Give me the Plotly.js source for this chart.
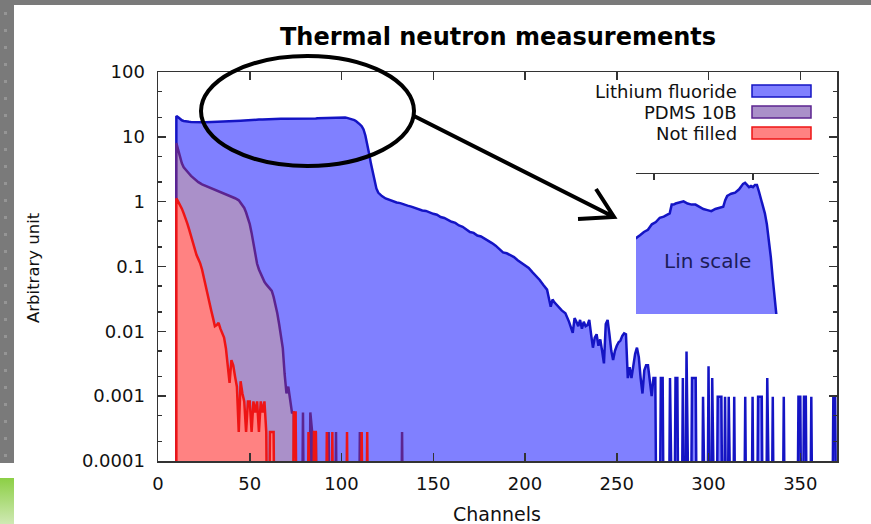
<!DOCTYPE html>
<html><head><meta charset="utf-8">
<script src="https://cdn.plot.ly/plotly-3.0.1.min.js"></script>
<style>
html,body{margin:0;padding:0;width:871px;height:524px;overflow:hidden;background:#fff;}
#bgTop{position:absolute;left:0;top:0;width:871px;height:5px;background:#7a7a7a;}
#bgLeft{position:absolute;left:0;top:0;width:14px;height:463px;background:#7a7a7a;}
#dots{position:absolute;left:4px;top:12px;width:3px;height:445px;background:repeating-linear-gradient(to bottom,#959595 0 3px,transparent 3px 17px);}
#green{position:absolute;left:0;top:478px;width:14px;height:46px;background:linear-gradient(to bottom,#8ccf45,#cfe9b3);}
#chart{position:absolute;left:0;top:0;width:871px;height:524px;}
</style></head>
<body>
<div id="bgTop"></div><div id="bgLeft"></div><div id="dots"></div><div id="green"></div>
<div id="chart"></div>
<script>
// ---------------- data ----------------
const lifChannels = [10,10,11,12,13,14,15,16,17,18,19,20,22,24,26,28,30,32,34,36,38,40,41,43,45,47,49,51,53,55,57,58,59,60,61,63,65,67,69,71,73,75,77,79,81,83,85,86,87,88,89,91,93,95,96,97,98,99,100,101,102,103,104,105,106,107,108,109,110,111,112,113,114,115,116,117,118,119,120,122,124,126,128,130,132,134,136,138,140,142,144,146,148,150,152,154,156,158,160,162,164,166,168,170,172,174,176,178,180,182,184,186,188,190,192,194,196,198,200,202,204,206,208,210,212,214,215,216,218,220,222,224,226,227,228,229,230,231,232,233,234,235,236,237,238,239,240,241,242,243,244,245,246,247,248,249,250,251,252,253,254,255,256,257,258,259,260,261,262,263,264,265,266,267,268,269,270,271,272];
const lifValues = [0,21,20,18.8,18.0,17.6,17.3,17.2,17.1,17.0,16.9,16.9,16.8,16.8,16.85,16.9,17.0,17.05,17.1,17.2,17.3,17.4,17.47,17.6,17.75,17.85,18.1,18.2,18.4,18.45,18.55,18.6,19.0,19.0,19.05,19.1,19.15,19.05,19.0,19.0,18.9,18.8,18.75,18.7,18.8,18.85,18.9,19.2,19.4,19.45,19.5,19.55,19.7,19.95,20.0,19.9,19.8,19.85,19.8,19.9,19.9,19.6,19.3,19.0,18.6,18.1,17.4,16.6,15.6,14.6,13.0,10.5,8.0,5.6,3.9,2.8,2.0,1.6,1.38,1.22,1.12,1.06,1.02,0.97,0.95,0.9,0.87,0.84,0.8,0.77,0.73,0.72,0.68,0.65,0.63,0.58,0.56,0.52,0.49,0.47,0.43,0.41,0.37,0.34,0.33,0.3,0.29,0.27,0.25,0.23,0.21,0.185,0.165,0.16,0.15,0.14,0.125,0.115,0.105,0.095,0.082,0.072,0.062,0.052,0.044,0.024,0.031,0.028,0.024,0.021,0.019,0.014,0.0095,0.016,0.014,0.012,0.015,0.011,0.014,0.012,0.0125,0.015,0.009,0.0056,0.008,0.009,0.006,0.0075,0.005,0.0032,0.013,0.015,0.009,0.005,0.0036,0.005,0.006,0.0068,0.0072,0.0085,0.0093,0.009,0.0019,0.0028,0.0019,0.003,0.0045,0.0056,0.004,0.0019,0.0011,0.0025,0.003,0.003,0.0019,0.001,0.0019,0.0019,0];
const lifTailChannels = [273,274,275,276,278,279,280,281,282,283,284,285,286,287,288,289,290,291,292,293,294,296,297,298,299,300,301,302,303,304,305,306,307,308,309,310,311,312,313,314,315,319,320,321,323,324,325,326,327,328,329,330,331,332,333,334,335,336,340,341,342,348,349,350,351,352,353,354,355,356,357,367,368,369,370];
const lifTailValues = [0,0.0019,0.0019,0,0,0.0019,0,0,0.0019,0.0019,0,0,0.0019,0,0.0049,0,0,0.0019,0.0019,0.0019,0,0,0.00098,0,0,0.0029,0,0.0019,0,0,0.00098,0.00098,0.00098,0,0.00098,0,0.00098,0,0,0.00098,0,0,0.00098,0,0,0.00098,0,0,0.00098,0.00098,0.00098,0,0,0.0019,0,0,0.00098,0,0,0.00098,0,0,0.00098,0.00098,0,0.00098,0.00098,0,0,0.00098,0,0,0.00098,0.00098,0];

const pdmsChannels = [10,10,11,12,13,14,15,16,17,18,19,20,22,24,26,28,30,32,34,36,38,40,42,44,45,46,47,48,49,50,51,52,53,54,55,56,57,58,59,60,61,62,63,64,65,66,67,68,69,70,71,72,73,74,75,78,79,80,82,83,84,85,86,87,92,93,94,96,97,98,109,110,111,132,133,134];
const pdmsValues = [0,8.0,6.3,4.8,3.9,3.4,3.1,2.9,2.7,2.5,2.35,2.2,2.0,1.85,1.75,1.65,1.56,1.48,1.42,1.35,1.28,1.2,1.13,1.05,0.97,0.9,0.8,0.68,0.56,0.45,0.33,0.22,0.15,0.11,0.09,0.077,0.066,0.058,0.053,0.049,0.045,0.042,0.034,0.026,0.019,0.013,0.0085,0.0055,0.0022,0.0011,0.0014,0.00083,0.00056,0.00056,0,0,0.00056,0,0,0.00056,0.00028,0,0.00028,0,0,0.00028,0,0,0.00028,0,0,0.00028,0,0,0.00028,0];

const emptyChannels = [10,10,11,12,13,14,15,16,17,18,19,20,21,22,23,24,25,26,27,28,29,30,31,32,33,34,35,36,37,38,39,40,41,42,43,44,45,46,47,48,49,50,51,52,53,54,55,56,57,58,59,60,61,62,63,64,73,74,75,76,81,82,83,84,85,86,87,91,92,93,94,95,96,102,103,104,110,111,112,113,114,115];
const emptyValues = [0,1.12,1.0,0.9,0.78,0.66,0.56,0.46,0.37,0.29,0.23,0.18,0.15,0.13,0.112,0.09,0.066,0.048,0.036,0.027,0.021,0.016,0.012,0.0125,0.0135,0.011,0.0095,0.008,0.0055,0.0028,0.0016,0.0036,0.003,0.002,0.0014,0.00028,0.0017,0.0011,0.00083,0.00028,0.00083,0.00083,0.00028,0.00083,0.00056,0.00083,0.00028,0.00083,0.00056,0.00083,0.00028,0,0.00028,0.00028,0.00028,0,0,0.00056,0.00056,0,0,0.00028,0,0,0.00028,0.00028,0,0,0.00028,0,0,0.00028,0,0,0.00028,0,0,0.00028,0,0,0.00028,0];

const seriesNames = ['Lithium fluoride','PDMS 10B','Not filled'];
const yTickVals = [0.0001,0.001,0.01,0.1,1,10,100];
const yTickText = ['0.0001','0.001','0.01','0.1','1','10','100'];
const yMinorVals = [0.0002,0.0005,0.002,0.005,0.02,0.05,0.2,0.5,2,5,20,50];
const xTickVals = [0,50,100,150,200,250,300,350];
const insetTickVals = [50,100];

// ---------------- geometry helpers ----------------
const W=871,H=524,L=158,R=34,T=72,B=63;
const PW=W-L-R, PH=H-T-B;
const px=(x)=>(x-L)/PW;
const py=(y)=>(H-B-y)/PH;
const FLOOR=1e-7;
const pos=(arr)=>arr.map(v=>v>0?v:FLOOR);

const lifX = lifChannels.concat(lifTailChannels);
const lifY = lifValues.concat(lifTailValues);

const colors = {
  lifLine:'#1414c4', lifFill:'#8080ff',
  pdmsLine:'#5c2490', pdmsFill:'#aa90c9',
  redLine:'#ee1515', redFill:'#ff8282'
};
const FONT='DejaVu Sans';
const LW=2.5;

const traces = [
  {x:lifX, y:pos(lifY), type:'scatter', mode:'lines', name:seriesNames[0], fill:'tozeroy',
   fillcolor:colors.lifFill, line:{color:colors.lifLine,width:LW}, xaxis:'x', yaxis:'y'},
  {x:pdmsChannels, y:pos(pdmsValues), type:'scatter', mode:'lines', name:seriesNames[1], fill:'tozeroy',
   fillcolor:colors.pdmsFill, line:{color:colors.pdmsLine,width:LW}, xaxis:'x', yaxis:'y'},
  {x:emptyChannels, y:pos(emptyValues), type:'scatter', mode:'lines', name:seriesNames[2], fill:'tozeroy',
   fillcolor:colors.redFill, line:{color:colors.redLine,width:LW}, xaxis:'x', yaxis:'y'},
  {x:lifChannels, y:lifValues, type:'scatter', mode:'lines', name:'inset', fill:'tozeroy',
   fillcolor:colors.lifFill, line:{color:colors.lifLine,width:LW}, xaxis:'x2', yaxis:'y2'}
];

// legend (gnuplot style: text left, swatch right)
const legendY=[91,112,133];
const legendLine=[colors.lifLine,colors.pdmsLine,colors.redLine];
const legendFill=[colors.lifFill,colors.pdmsFill,colors.redFill];
const shapes=[];
const annotations=[];
seriesNames.forEach((n,i)=>{
  annotations.push({xref:'paper',yref:'paper',x:px(739),y:py(legendY[i]),xanchor:'right',yanchor:'middle',
    text:n,showarrow:false,font:{family:FONT,size:18,color:'#111'}});
  shapes.push({type:'rect',xref:'paper',yref:'paper',x0:px(752),x1:px(811),y0:py(legendY[i]+6),y1:py(legendY[i]-6),
    fillcolor:legendFill[i],line:{color:legendLine[i],width:1.5},layer:'above'});
});
// ellipse + arrow
shapes.push({type:'circle',xref:'paper',yref:'paper',x0:px(201),x1:px(414),y0:py(166),y1:py(56),
  line:{color:'#000',width:4},layer:'above'});
const P=(x,y)=>px(x)+','+py(y);
shapes.push({type:'path',xref:'paper',yref:'paper',
  path:'M'+P(414,116)+' L'+P(614,217)+' M'+P(596,189)+' L'+P(614,217)+' L'+P(578,219),
  line:{color:'#000',width:4},layer:'above'});

annotations.push({xref:'paper',yref:'paper',x:px(707),y:py(261),text:'Lin scale',showarrow:false,
  xanchor:'center',yanchor:'middle',font:{family:FONT,size:20,color:'#1c1c58'}});
annotations.push({xref:'paper',yref:'paper',x:px(497),y:py(514),text:'Channels',showarrow:false,
  xanchor:'center',yanchor:'middle',font:{family:FONT,size:19,color:'#111'}});
annotations.push({xref:'paper',yref:'paper',x:px(33),y:py(267),text:'Arbitrary unit',showarrow:false,textangle:-90,
  xanchor:'center',yanchor:'middle',font:{family:FONT,size:16.5,color:'#111'}});

const axisCommon={showgrid:false,zeroline:false,showline:true,linecolor:'#333',linewidth:1.5,
  ticks:'inside',tickcolor:'#333',tickwidth:1.5,mirror:'ticks',tickfont:{family:FONT,size:18,color:'#111'}};

const layout={
  width:W,height:H,margin:{l:L,r:R,t:T,b:B,pad:0},
  paper_bgcolor:'rgba(0,0,0,0)',plot_bgcolor:'rgba(0,0,0,0)',
  showlegend:false,
  title:{text:'<b>Thermal neutron measurements</b>',xref:'paper',x:px(498),xanchor:'center',
    yref:'container',y:1-37/H,yanchor:'middle',font:{family:FONT,size:24,color:'#000'}},
  xaxis:Object.assign({},axisCommon,{range:[0,370],tickmode:'array',tickvals:xTickVals,ticklen:8,ticklabelstandoff:6}),
  yaxis:Object.assign({},axisCommon,{type:'log',range:[-4,2],tickmode:'array',tickvals:yTickVals,ticktext:yTickText,ticklen:8,
    ticklabelstandoff:8,minor:{tickmode:'array',tickvals:yMinorVals,ticklen:4,ticks:'inside',tickcolor:'#333',tickwidth:1.5}}),
  xaxis2:{domain:[px(636),px(819)],range:[41,133.3],anchor:'y2',side:'top',showline:true,linecolor:'#333',linewidth:1.5,
    ticks:'inside',tickmode:'array',tickvals:insetTickVals,ticklen:6,tickwidth:1.5,tickcolor:'#333',showticklabels:false,showgrid:false,zeroline:false},
  yaxis2:{domain:[py(314),py(174)],range:[14,20.4],anchor:'x2',showline:false,ticks:'',showticklabels:false,showgrid:false,zeroline:false},
  shapes:shapes,annotations:annotations
};
Plotly.newPlot('chart',traces,layout,{displayModeBar:false,staticPlot:true});
</script>
</body></html>
